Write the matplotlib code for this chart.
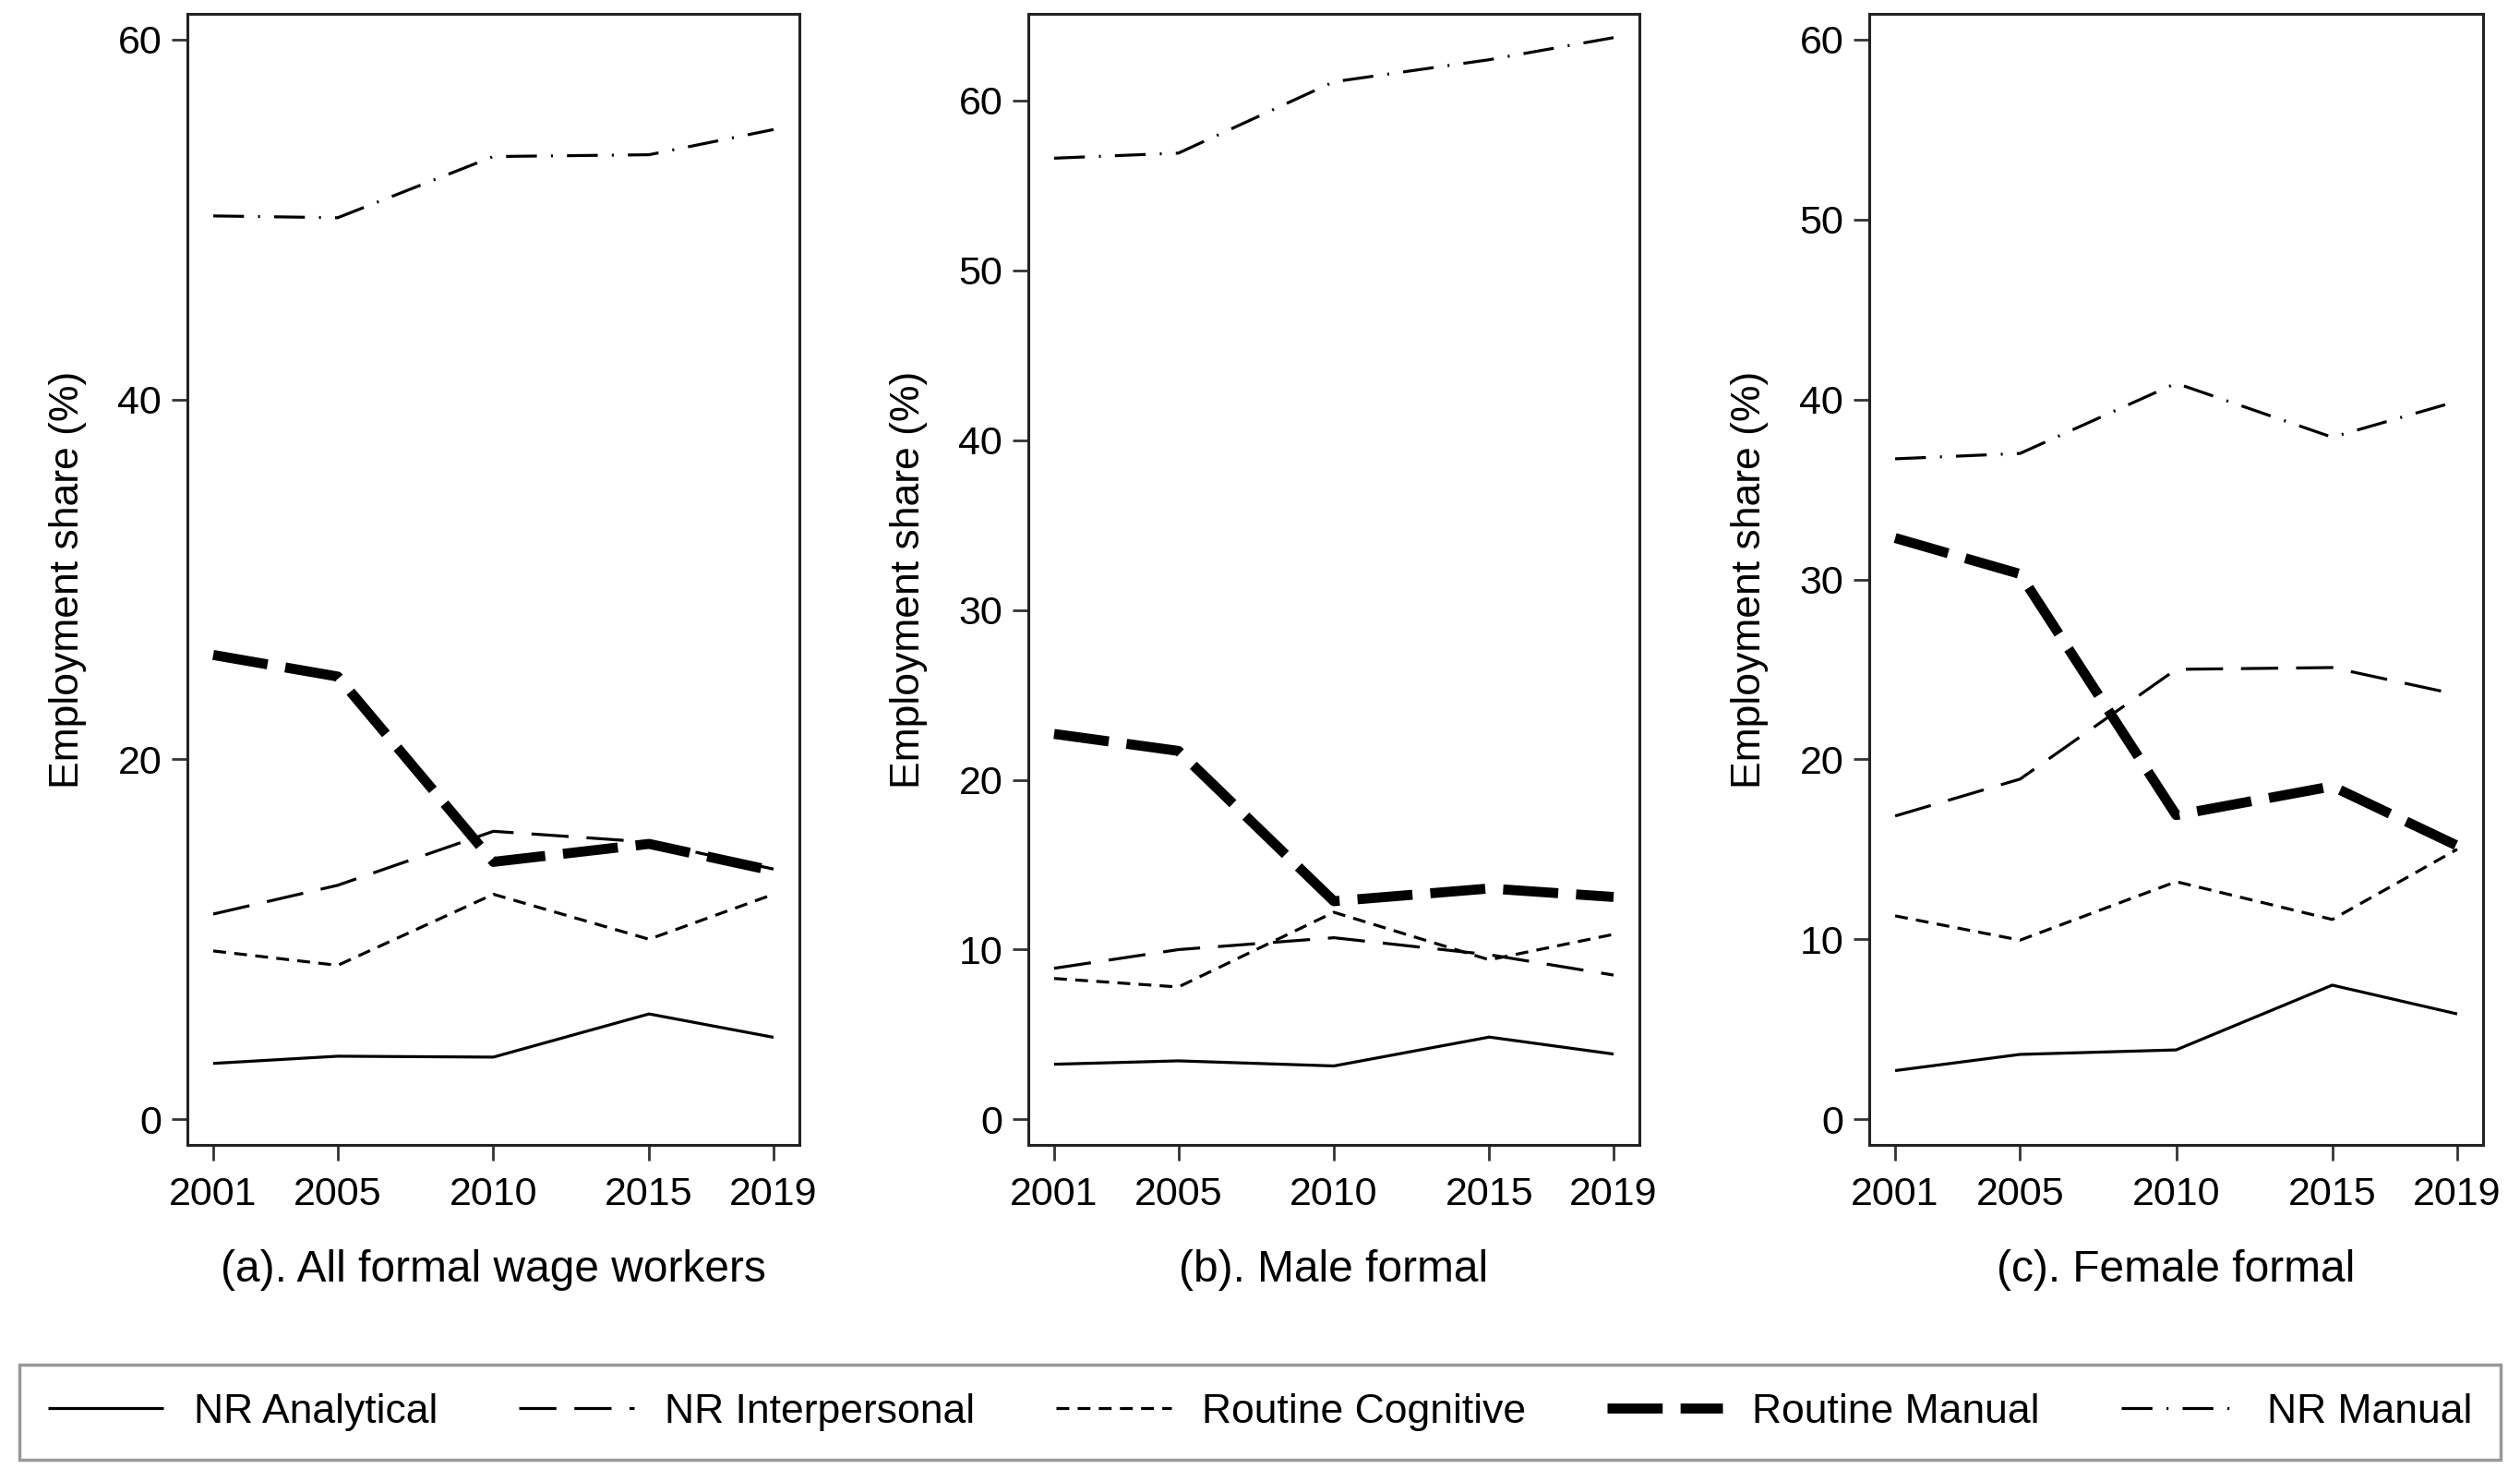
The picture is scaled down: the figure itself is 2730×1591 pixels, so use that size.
import matplotlib
matplotlib.use("Agg")
import matplotlib.pyplot as plt
from matplotlib.lines import Line2D
from matplotlib import font_manager

plt.rcParams['font.family'] = ['Liberation Sans', 'DejaVu Sans']
plt.rcParams['lines.scale_dashes'] = False

years = [2001, 2005, 2010, 2015, 2019]
series_names = ["NR Analytical", "NR Interpersonal", "Routine Cognitive", "Routine Manual", "NR Manual"]

# (a) All formal wage workers
all_nr_analytical = [3.1, 3.5, 3.45, 5.85, 4.55]
all_nr_interpersonal = [11.4, 13.0, 16.0, 15.4, 13.9]
all_routine_cognitive = [9.35, 8.55, 12.5, 10.0, 12.5]
all_routine_manual = [25.8, 24.6, 14.3, 15.3, 13.8]
all_nr_manual = [50.2, 50.1, 53.5, 53.6, 55.0]

# (b) Male formal
male_nr_analytical = [3.25, 3.45, 3.15, 4.85, 3.85]
male_nr_interpersonal = [8.9, 10.0, 10.7, 9.7, 8.5]
male_routine_cognitive = [8.3, 7.8, 12.2, 9.4, 10.9]
male_routine_manual = [22.7, 21.7, 12.85, 13.6, 13.1]
male_nr_manual = [56.6, 56.9, 61.1, 62.4, 63.7]

# (c) Female formal
female_nr_analytical = [2.7, 3.6, 3.85, 7.45, 5.85]
female_nr_interpersonal = [16.85, 18.9, 25.0, 25.1, 23.6]
female_routine_cognitive = [11.3, 9.95, 13.2, 11.1, 15.0]
female_routine_manual = [32.3, 30.3, 16.9, 18.5, 15.2]
female_nr_manual = [36.7, 37.0, 40.9, 37.9, 39.9]

panel_titles = ["(a). All formal wage workers", "(b). Male formal", "(c). Female formal"]
panels = [
    [all_nr_analytical, all_nr_interpersonal, all_routine_cognitive, all_routine_manual, all_nr_manual],
    [male_nr_analytical, male_nr_interpersonal, male_routine_cognitive, male_routine_manual, male_nr_manual],
    [female_nr_analytical, female_nr_interpersonal, female_routine_cognitive, female_routine_manual, female_nr_manual],
]
yticks_list = [[0, 20, 40, 60], [0, 10, 20, 30, 40, 50, 60], [0, 10, 20, 30, 40, 50, 60]]
ylims = [(-1.43, 61.43), (-1.5, 65.1), (-1.43, 61.43)]

styles = [
    dict(lw=2.3, linestyle='-'),
    dict(lw=2.3, linestyle=(0, (29, 14))),
    dict(lw=2.3, linestyle=(0, (10, 6.5))),
    dict(lw=7.8, linestyle=(0, (43, 14))),
    dict(lw=2.3, linestyle=(0, (24, 11, 1.5, 11))),
]

# legend font: narrow face if present
try:
    font_manager.findfont(font_manager.FontProperties(family='Liberation Sans Narrow'), fallback_to_default=False)
    leg_prop = dict(family='Liberation Sans Narrow', size=39)
except Exception:
    leg_prop = dict(family='Liberation Sans', size=32)
leg_px = leg_prop['size'] * 100 / 72.0

W, H = 2730, 1591
fig = plt.figure(figsize=(W / 100, H / 100), dpi=100)
lefts = [203, 1114, 2025]
rights = [866, 1776, 2690]
top_px, bottom_px = 15, 1240

for i in range(3):
    ax = fig.add_axes([lefts[i] / W, 1 - bottom_px / H, (rights[i] - lefts[i]) / W, (bottom_px - top_px) / H])
    for vals, st in zip(panels[i], styles):
        ax.plot(years, vals, color='black', solid_capstyle='butt', dash_capstyle='butt', **st)
    ax.set_xlim(2000.17, 2019.83)
    ax.set_ylim(*ylims[i])
    ax.set_xticks(years)
    ax.set_yticks(yticks_list[i])
    ax.tick_params(axis='both', direction='out', length=12, width=2, labelsize=31, color='#333333')
    ax.tick_params(axis='x', pad=12.5)
    ax.tick_params(axis='y', pad=8)
    for sp in ax.spines.values():
        sp.set_linewidth(2.2)
        sp.set_color('#222222')
    ax.set_ylabel("Employment share (%)", fontsize=32, labelpad=24)
    ax.set_xlabel(panel_titles[i], fontsize=34.5, labelpad=28)

handles = [Line2D([], [], color='black', solid_capstyle='butt', dash_capstyle='butt', **st) for st in styles]
leg = fig.legend(handles, series_names, loc='lower left', mode='expand', ncol=5,
                 bbox_to_anchor=(21 / W, 10 / H, 2688 / W, 113 / H),
                 prop=leg_prop,
                 handlelength=125 / leg_px, handletextpad=33 / leg_px, borderpad=31 / leg_px,
                 columnspacing=1.5, fancybox=False, frameon=True, borderaxespad=0)
leg.get_frame().set_edgecolor('#808080')
leg.get_frame().set_linewidth(2.5)

fig.savefig("out.png", dpi=100, facecolor='white')
